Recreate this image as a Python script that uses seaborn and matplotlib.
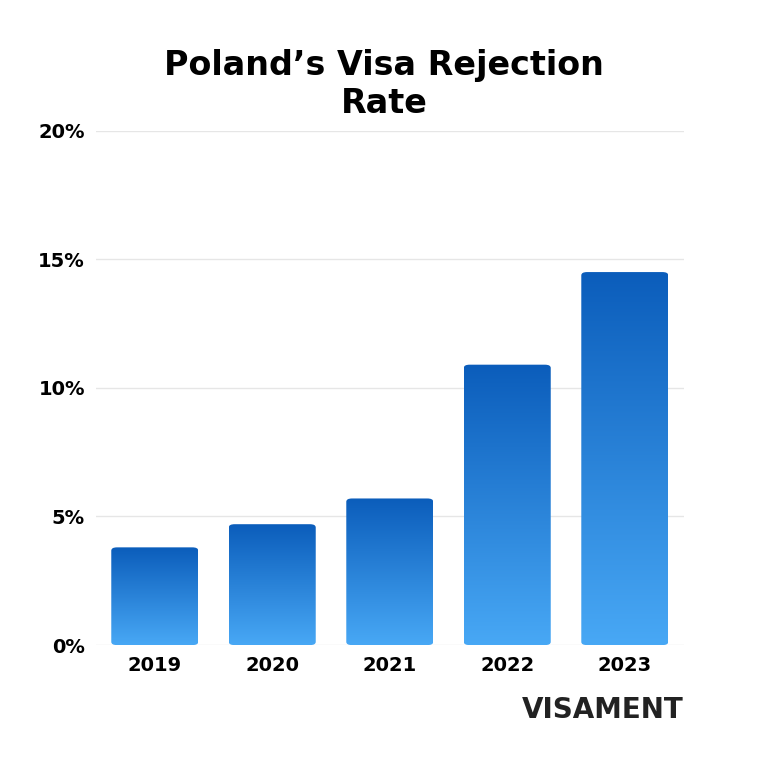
import matplotlib
matplotlib.use("Agg")
import matplotlib.pyplot as plt
import seaborn as sns
import numpy as np
import pandas as pd
from matplotlib.patches import FancyBboxPatch

years = ["2019", "2020", "2021", "2022", "2023"]
rates = [3.8, 4.7, 5.7, 10.9, 14.5]
yticks = [0, 5, 10, 15, 20]
ytick_labels = ["0%", "5%", "10%", "15%", "20%"]

df = pd.DataFrame({"year": years, "rate": rates})
fig, ax = plt.subplots(figsize=(7.68, 7.68), dpi=100)
fig.subplots_adjust(left=0.125, right=0.89, top=0.83, bottom=0.16)
sns.barplot(data=df, x="year", y="rate", ax=ax, width=0.74, color="#1565c0")
ax.set_ylim(0, 20)
ax.set_xlim(-0.5, 4.5)

from matplotlib.colors import LinearSegmentedColormap
cmap = LinearSegmentedColormap.from_list("g", ["#48a8f5", "#0b5dbb"])
grad = np.linspace(0, 1, 256).reshape(-1, 1)
for p in list(ax.patches):
    x, w, h = p.get_x(), p.get_width(), p.get_height()
    p.set_visible(False)
    fb = FancyBboxPatch((x, 0), w, h, boxstyle="round,pad=0,rounding_size=0.05",
                        mutation_aspect=2.5, transform=ax.transData, facecolor="none", edgecolor="none")
    ax.add_patch(fb)
    im = ax.imshow(grad, cmap=cmap, extent=(x, x + w, 0, h), origin="lower", aspect="auto", zorder=2)
    im.set_clip_path(fb)
ax.set_aspect("auto")

ax.set_yticks(yticks)
ax.set_yticklabels(ytick_labels)
ax.yaxis.grid(True, color="#e6e6e6", linewidth=1)
ax.set_axisbelow(True)
for s in ax.spines.values():
    s.set_visible(False)
ax.tick_params(length=0, labelsize=14, pad=8)
for t in ax.get_xticklabels() + ax.get_yticklabels():
    t.set_fontweight("bold")
ax.set_xlabel("")
ax.set_ylabel("")
fig.text(0.5, 0.89, "Poland\u2019s Visa Rejection\nRate", ha="center", va="center",
         fontsize=24, fontweight="bold", family="Poppins" if False else "DejaVu Sans", linespacing=1.2)
fig.text(0.89, 0.075, "VISAMENT", ha="right", va="center", fontsize=20, fontweight="bold", color="#222222")
fig.savefig("out.png", dpi=100, facecolor="white")
